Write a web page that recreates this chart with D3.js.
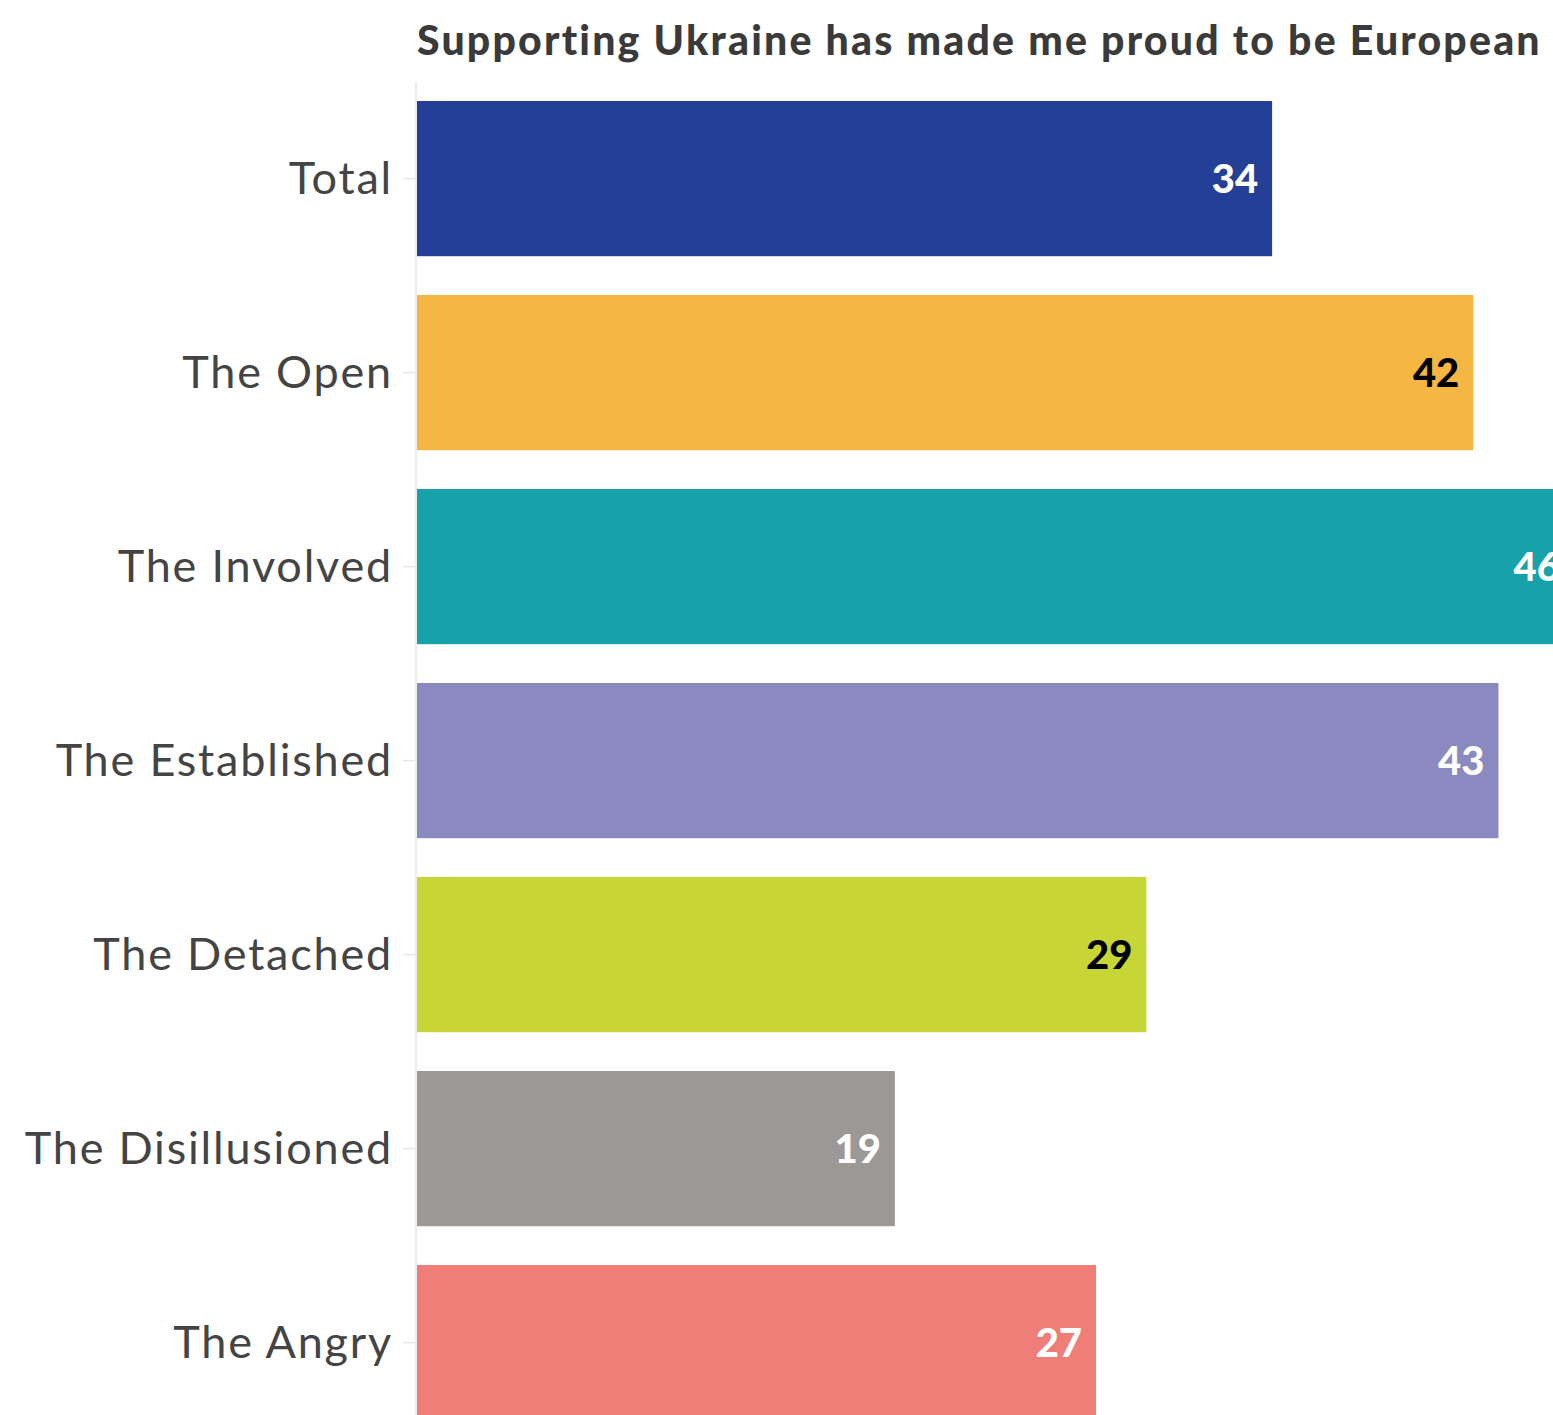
<!DOCTYPE html>
<html>
<head>
<meta charset="utf-8">
<script src="https://cdn.jsdelivr.net/npm/d3@7"></script>
<style>
  html, body { margin: 0; padding: 0; background: #fff; overflow: hidden; }
  svg { display: block; }
</style>
</head>
<body>
<script>
// Share agreeing with the statement, by segment
const categories = ["Total", "The Open", "The Involved", "The Established", "The Detached", "The Disillusioned", "The Angry"];
const values = [34, 42, 46, 43, 29, 19, 27];
const barColors = ["#233f96", "#f5b642", "#16a2a8", "#8a89c0", "#c7d535", "#9b9896", "#ee7e77"];
const valueTextColors = ["#ffffff", "#000000", "#ffffff", "#ffffff", "#000000", "#ffffff", "#ffffff"];
const title = "Supporting Ukraine has made me proud to be European";

const W = 1553, H = 1415;
const margin = { left: 417, top: 81.6 };

const svg = d3.select("body").append("svg")
  .attr("width", W).attr("height", H);

const x = d3.scaleLinear().domain([0, 50]).range([0, 1257.5]);
const y = d3.scaleBand().domain(categories)
  .range([0, 1358]).paddingInner(0.2).paddingOuter(0.1);

const g = svg.append("g").attr("transform", `translate(${margin.left},${margin.top})`);

// Title
svg.append("text")
  .attr("x", 417).attr("y", 55)
  .attr("font-family", "Lato, sans-serif")
  .attr("font-weight", 900)
  .attr("font-size", 41)
  .attr("letter-spacing", 2.2)
  .attr("fill", "#3a3a3a")
  .text(title);

// Category axis
const yAxis = g.append("g").call(d3.axisLeft(y).tickSize(14).tickPadding(10));
yAxis.select(".domain").attr("stroke", "#ececec").attr("stroke-width", 2)
  .attr("d", `M-1,0V${H}`);
yAxis.selectAll(".tick line").attr("stroke", "#e6e6e6").attr("stroke-width", 1.5)
  .attr("x1", -2);
yAxis.selectAll(".tick text")
  .attr("font-family", "Lato, sans-serif")
  .attr("font-size", 45)
  .attr("letter-spacing", 1.8)
  .attr("fill", "#444")
  .attr("dy", "0.35em");

// Bars
g.selectAll("rect.bar").data(values).join("rect")
  .attr("class", "bar")
  .attr("x", 0)
  .attr("y", (d, i) => y(categories[i]))
  .attr("width", d => x(d))
  .attr("height", y.bandwidth())
  .attr("fill", (d, i) => barColors[i]);

// Value labels inside bar ends
g.selectAll("text.val").data(values).join("text")
  .attr("class", "val")
  .attr("x", d => x(d) - 14)
  .attr("y", (d, i) => y(categories[i]) + y.bandwidth() / 2)
  .attr("dy", "0.36em")
  .attr("text-anchor", "end")
  .attr("font-family", "Lato, sans-serif")
  .attr("font-weight", 900)
  .attr("font-size", 40)
  .attr("fill", (d, i) => valueTextColors[i])
  .text(d => d);
</script>
</body>
</html>
